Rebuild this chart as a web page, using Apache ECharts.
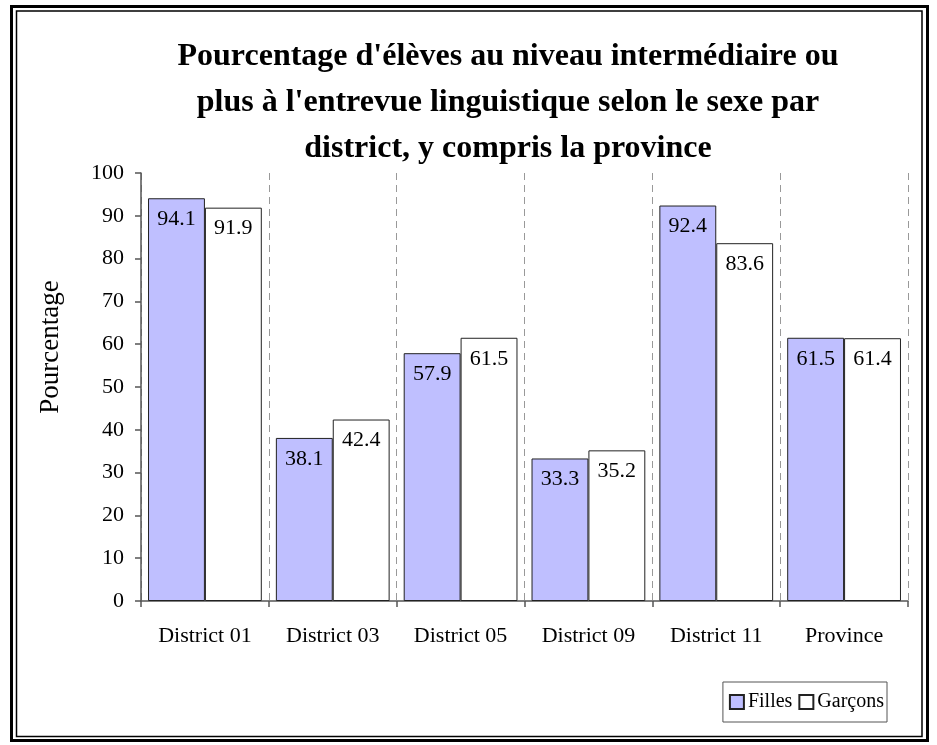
<!DOCTYPE html>
<html>
<head>
<meta charset="utf-8">
<title>Pourcentage par district</title>
<style>
  html, body { margin: 0; padding: 0; background: #fff; }
  #chart { width: 937px; height: 745px; }
</style>
</head>
<body>
<div id="chart"></div>
<script src="https://cdn.jsdelivr.net/npm/echarts@6/dist/echarts.min.js"></script>
<script>
const CATEGORIES = ['District 01', 'District 03', 'District 05', 'District 09', 'District 11', 'Province'];
const FILLES = [94.1, 38.1, 57.9, 33.3, 92.4, 61.5];
const GARCONS = [91.9, 42.4, 61.5, 35.2, 83.6, 61.4];
const TITLE = "Pourcentage d'élèves au niveau intermédiaire ou\nplus à l'entrevue linguistique selon le sexe par\ndistrict, y compris la province";

const FONT = '"Liberation Serif", "Times New Roman", serif';

var chart = echarts.init(document.getElementById('chart'));

var labelStyle = {
  show: true,
  position: 'insideTop',
  distance: 10,
  color: '#000',
  fontFamily: FONT,
  fontSize: 22
};

var option = {
  animation: false,
  title: {
    text: TITLE,
    left: 503,
    top: 29,
    textAlign: 'center',
    textStyle: {
      fontFamily: FONT,
      fontWeight: 'bold',
      fontSize: 32,
      lineHeight: 46,
      color: '#000'
    }
  },
  graphic: [
    { type: 'rect', shape: { x: 11.5, y: 6.5, width: 916, height: 734 }, style: { fill: 'none', stroke: '#000', lineWidth: 3 } },
    { type: 'rect', shape: { x: 16.5, y: 11, width: 905.5, height: 725.5 }, style: { fill: 'none', stroke: '#000', lineWidth: 1.5 } },
    {
      type: 'text', x: 51, y: 347, rotation: Math.PI / 2,
      style: { text: 'Pourcentage', fontFamily: FONT, fontSize: 27, fill: '#000', textAlign: 'center', textVerticalAlign: 'middle' }
    }
  ],
  legend: {
    data: ['Filles', 'Garçons'],
    right: 50,
    top: 682,
    orient: 'horizontal',
    itemWidth: 14,
    itemHeight: 14,
    itemGap: 6,
    padding: [10, 3, 10, 6],
    borderColor: '#555',
    borderWidth: 1,
    icon: 'rect',
    textStyle: { fontFamily: FONT, fontSize: 20, color: '#000', padding: [0, 0, 0, -1] }
  },
  grid: {
    left: 141,
    right: 29,
    top: 173,
    bottom: 144
  },
  xAxis: {
    type: 'category',
    data: CATEGORIES,
    axisLine: { lineStyle: { color: '#555', width: 1.5 } },
    axisTick: { show: true, length: 6, inside: false, alignWithLabel: false, lineStyle: { color: '#555', width: 1.5 } },
    axisLabel: { fontFamily: FONT, fontSize: 22, color: '#000', margin: 24 },
    splitLine: { show: true, interval: 0, lineStyle: { color: '#999', type: [7, 5], width: 1 } }
  },
  yAxis: {
    type: 'value',
    min: 0,
    max: 100,
    interval: 10,
    axisLine: { show: true, lineStyle: { color: '#555', width: 1.5 } },
    axisTick: { show: true, length: 6, lineStyle: { color: '#555', width: 1.5 } },
    axisLabel: { fontFamily: FONT, fontSize: 22, color: '#000', margin: 17 },
    splitLine: { show: false }
  },
  series: [
    {
      name: 'Filles',
      type: 'bar',
      data: FILLES,
      barGap: '0%',
      barCategoryGap: '11%',
      itemStyle: { color: '#bfbfff', borderColor: '#222', borderWidth: 1 },
      label: labelStyle
    },
    {
      name: 'Garçons',
      type: 'bar',
      data: GARCONS,
      itemStyle: { color: '#ffffff', borderColor: '#222', borderWidth: 1 },
      label: labelStyle
    }
  ]
};

chart.setOption(option);
</script>
</body>
</html>
